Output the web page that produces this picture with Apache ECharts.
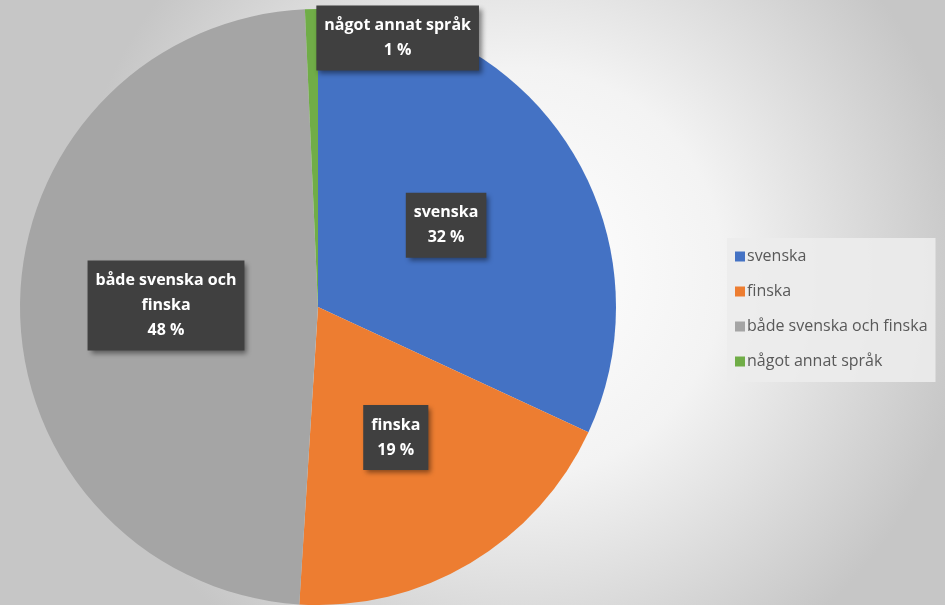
<!DOCTYPE html>
<html>
<head>
<meta charset="utf-8">
<script src="https://cdn.jsdelivr.net/npm/echarts@6/dist/echarts.min.js"></script>
<style>html,body{margin:0;padding:0;}#c{width:945px;height:605px;}</style>
</head>
<body>
<div id="c"></div>
<script>
const categories = ['svenska', 'finska', 'både svenska och finska', 'något annat språk'];
const labelNames = ['svenska', 'finska', 'både svenska och\nfinska', 'något annat språk'];
const values = [31.9, 19.1, 48.3, 0.7];
const colors = ['#4472C4', '#ED7D31', '#A5A5A5', '#70AD47'];

const chart = echarts.init(document.getElementById('c'), null, {renderer: 'canvas'});
const data = categories.map((n, i) => ({name: n, value: values[i], itemStyle: {color: colors[i]}}));

chart.setOption({
  animation: false,
  backgroundColor: new echarts.graphic.RadialGradient(0.55, 0.45, 0.75, [
    {offset: 0, color: '#ffffff'},
    {offset: 0.45, color: '#f3f3f3'},
    {offset: 1, color: '#c6c6c6'}
  ]),
  legend: {
    orient: 'vertical',
    left: 727,
    top: 238,
    width: 205,
    padding: [8, 8, 10, 8],
    backgroundColor: 'rgba(236,236,236,0.9)',
    itemWidth: 10,
    itemHeight: 10,
    itemGap: 14,
    icon: 'rect',
    textStyle: {fontFamily: 'Open Sans', fontSize: 16, color: '#595959', padding: [0, 0, 0, -3], lineHeight: 21},
    data: categories
  },
  series: [{
    type: 'pie',
    center: [318, 307],
    radius: 298,
    startAngle: 90,
    clockwise: true,
    silent: true,
    label: {
      show: true,
      position: 'inside',
      formatter: p => labelNames[p.dataIndex] + '\n' + Math.round(p.percent) + ' %',
      color: '#ffffff',
      fontFamily: 'Open Sans',
      fontWeight: 'bold',
      fontSize: 16,
      lineHeight: 25,
      align: 'center',
      backgroundColor: '#404040',
      padding: [8, 8, 7, 8],
      shadowColor: 'rgba(0,0,0,0.45)',
      shadowBlur: 5,
      shadowOffsetX: 3,
      shadowOffsetY: 3
    },
    labelLine: {show: false},
    labelLayout: function (params) {
      if (params.dataIndex === 3) {
        return {dx: 83, dy: -117};
      }
      return {};
    },
    data: data
  }]
});
</script>
</body>
</html>
